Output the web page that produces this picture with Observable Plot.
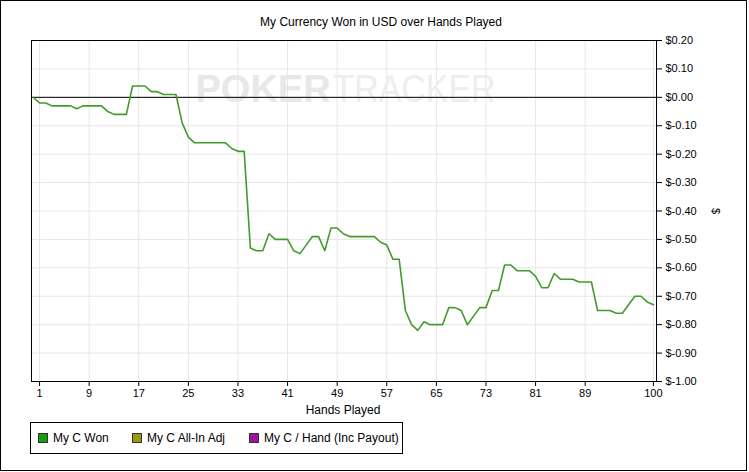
<!DOCTYPE html>
<html>
<head>
<meta charset="utf-8">
<script src="https://cdn.jsdelivr.net/npm/d3@7"></script>
<script src="https://cdn.jsdelivr.net/npm/@observablehq/plot@0.6"></script>
<style>
  html, body { margin: 0; padding: 0; background: #fff; }
  #wrap { position: relative; width: 749px; height: 472px; overflow: hidden; font-family: "Liberation Sans", Arial, sans-serif; color: #000; }
  #border { position: absolute; left: 0; top: 0; width: 745px; height: 469px; border: 1px solid #000; pointer-events: none; }
  #title { position: absolute; left: 381px; top: 15px; transform: translateX(-50%); font-size: 12px; white-space: nowrap; }
  #xlabel { position: absolute; left: 343px; top: 403px; transform: translateX(-50%); font-size: 12px; white-space: nowrap; }
  #ylabel { position: absolute; left: 716px; top: 211px; transform: translate(-50%, -50%) rotate(90deg); font-size: 11px; }
  #legend { position: absolute; left: 30px; top: 422px; width: 371px; height: 30px; border: 1px solid #000; font-size: 12px; }
  .item { position: absolute; top: 8px; white-space: nowrap; }
  .sw { display: inline-block; width: 8px; height: 8px; border: 1px solid #333; vertical-align: -1px; margin-right: 5px; }
  svg { position: absolute; left: 0; top: 0; }
</style>
</head>
<body>
<div id="wrap">
  <div id="chart"></div>
  <div id="title"></div>
  <div id="xlabel"></div>
  <div id="ylabel"></div>
  <div id="legend"></div>
  <div id="border"></div>
</div>
<script>
const title = "My Currency Won in USD over Hands Played";
const xLabel = "Hands Played";
const yLabel = "$";
const xTicks = [1, 9, 17, 25, 33, 41, 49, 57, 65, 73, 81, 89, 100];
const yTicks = [0.2, 0.1, 0, -0.1, -0.2, -0.3, -0.4, -0.5, -0.6, -0.7, -0.8, -0.9, -1.0];
const legendNames = ["My C Won", "My C All-In Adj", "My C / Hand (Inc Payout)"];
const legendColors = ["#12a012", "#9a9a12", "#a012a0"];
const legendX = [7, 101, 218];
const watermark = ["POKER", "TRACKER"];
// Cumulative currency won after each hand (hand 0 .. 100)
const won = [
  0, -0.02, -0.02, -0.03, -0.03, -0.03, -0.03, -0.04, -0.03, -0.03,
  -0.03, -0.03, -0.05, -0.06, -0.06, -0.06, 0.04, 0.04, 0.04, 0.02,
  0.02, 0.01, 0.01, 0.01, -0.09, -0.14, -0.16, -0.16, -0.16, -0.16,
  -0.16, -0.16, -0.18, -0.19, -0.19, -0.53, -0.54, -0.54, -0.48, -0.50,
  -0.50, -0.50, -0.54, -0.55, -0.52, -0.49, -0.49, -0.54, -0.46, -0.46,
  -0.48, -0.49, -0.49, -0.49, -0.49, -0.49, -0.51, -0.52, -0.57, -0.57,
  -0.75, -0.80, -0.82, -0.79, -0.80, -0.80, -0.80, -0.74, -0.74, -0.75,
  -0.80, -0.77, -0.74, -0.74, -0.68, -0.68, -0.59, -0.59, -0.61, -0.61,
  -0.61, -0.63, -0.67, -0.67, -0.62, -0.64, -0.64, -0.64, -0.65, -0.65,
  -0.65, -0.75, -0.75, -0.75, -0.76, -0.76, -0.73, -0.70, -0.70, -0.72,
  -0.73
];
const data = won.map((v, i) => ({hand: i, value: v}));

document.getElementById("title").textContent = title;
document.getElementById("xlabel").textContent = xLabel;
document.getElementById("ylabel").textContent = yLabel;
const leg = document.getElementById("legend");
legendNames.forEach((n, i) => {
  const it = document.createElement("div");
  it.className = "item";
  it.style.left = legendX[i] + "px";
  const sw = document.createElement("span");
  sw.className = "sw";
  sw.style.background = legendColors[i];
  it.appendChild(sw);
  it.appendChild(document.createTextNode(n));
  leg.appendChild(it);
});

const chart = Plot.plot({
  width: 749,
  height: 472,
  marginTop: 40,
  marginBottom: 91,
  marginLeft: 31,
  marginRight: 93,
  style: {fontFamily: "Liberation Sans, Arial, sans-serif", fontSize: "11px", background: "transparent", color: "#000"},
  x: {domain: [-0.3, 100.5]},
  y: {domain: [-1.0, 0.2]},
  marks: [
    Plot.gridX(xTicks, {stroke: "#e6e6e6", strokeOpacity: 1}),
    Plot.gridY(yTicks, {stroke: "#e6e6e6", strokeOpacity: 1}),
    Plot.text([watermark[0]], {className: "wm-a", frameAnchor: "top-left", dx: 164, dy: 49, textAnchor: "start", lineAnchor: "middle", fontSize: 38, fontWeight: "bold", fill: "#e8e8e8"}),
    Plot.text([watermark[1]], {className: "wm-b", frameAnchor: "top-left", dx: 302, dy: 49, textAnchor: "start", lineAnchor: "middle", fontSize: 38, fill: "#eeeeee"}),
    Plot.ruleY([0], {stroke: "#000", strokeWidth: 1}),
    Plot.line(data, {x: "hand", y: "value", stroke: "#449a2c", strokeWidth: 1.6}),
    Plot.frame({stroke: "#000"}),
    Plot.axisX({ticks: xTicks, tickFormat: d => String(d), tickSize: 5, tickPadding: 3, label: null}),
    Plot.axisY({anchor: "right", ticks: yTicks, tickFormat: d => "$" + d.toFixed(2), tickSize: 5, tickPadding: 4, label: null})
  ]
});
d3.select(chart).selectAll(".wm-b text").attr("textLength", 162).attr("lengthAdjust", "spacingAndGlyphs");
document.getElementById("chart").appendChild(chart);
</script>
</body>
</html>
